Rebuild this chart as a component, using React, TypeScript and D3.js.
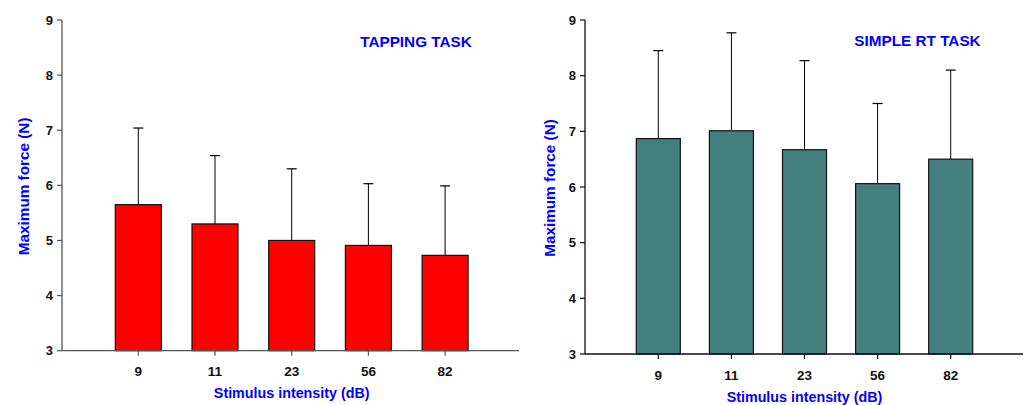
import * as d3 from 'd3'
import React from 'react'

const intensities = ['9', '11', '23', '56', '82']
const tappingMeans = [5.65, 5.3, 5.0, 4.91, 4.73]
const tappingSD = [1.39, 1.24, 1.3, 1.12, 1.26]
const simpleMeans = [6.87, 7.01, 6.67, 6.06, 6.5]
const simpleSD = [1.58, 1.76, 1.6, 1.44, 1.6]
const yTicks = [3, 4, 5, 6, 7, 8, 9]

const FONT = 'Liberation Sans, Arial, sans-serif'
const BLUE = '#0000ff'

type PanelProps = {
  title: string
  means: number[]
  sds: number[]
  fill: string
  axisColor: string
  x0: number
  x1: number
  top: number
  bottom: number
  firstTick: number
  step: number
  barW: number
  titleX: number
  titleY: number
  yLabelX: number
  xLabelY: number
  tickLabelY: number
}

function Panel(p: PanelProps) {
  const y = d3.scaleLinear().domain([3, 9]).range([p.bottom, p.top])
  const x = d3
    .scalePoint<string>()
    .domain(intensities)
    .range([p.firstTick, p.firstTick + p.step * (intensities.length - 1)])
  const mid = (p.firstTick + p.firstTick + p.step * 4) / 2

  return (
    <g fontFamily={FONT} fontWeight="bold">
      {/* bars + error bars */}
      {p.means.map((m, i) => {
        const cx = x(intensities[i])!
        const top = y(m + p.sds[i])
        return (
          <g key={i}>
            <line x1={cx} x2={cx} y1={y(m)} y2={top} stroke="#000" strokeWidth={1} />
            <line x1={cx - 5} x2={cx + 5} y1={top} y2={top} stroke="#000" strokeWidth={1.2} />
            <rect
              x={cx - p.barW / 2}
              y={y(m)}
              width={p.barW}
              height={y(3) - y(m)}
              fill={p.fill}
              stroke="#111"
              strokeWidth={1.2}
            />
          </g>
        )
      })}

      {/* y axis */}
      <line x1={p.x0} x2={p.x0} y1={p.top} y2={p.bottom} stroke={p.axisColor} strokeWidth={1.3} />
      {yTicks.map((t) => (
        <g key={t}>
          <line x1={p.x0 - 5} x2={p.x0} y1={y(t)} y2={y(t)} stroke={p.axisColor} strokeWidth={1.2} />
          <text x={p.x0 - 9} y={y(t)} dy="0.35em" textAnchor="end" fontSize={13} fill="#111">
            {t}
          </text>
        </g>
      ))}

      {/* x axis */}
      <line x1={p.x0} x2={p.x1} y1={p.bottom} y2={p.bottom} stroke={p.axisColor} strokeWidth={1.3} />
      {intensities.map((c) => (
        <g key={c}>
          <line x1={x(c)} x2={x(c)} y1={p.bottom} y2={p.bottom + 5} stroke={p.axisColor} strokeWidth={1.2} />
          <text x={x(c)} y={p.tickLabelY} dy="0.35em" textAnchor="middle" fontSize={13.5} fill="#111">
            {c}
          </text>
        </g>
      ))}

      <text x={mid} y={p.xLabelY} dy="0.35em" textAnchor="middle" fontSize={14.3} fill={BLUE}>
        Stimulus intensity (dB)
      </text>
      <text
        transform={`translate(${p.yLabelX},${(p.top + p.bottom) / 2 + 1}) rotate(-90)`}
        dy="0.35em"
        textAnchor="middle"
        fontSize={15.3}
        fill={BLUE}
      >
        Maximum force (N)
      </text>
      <text x={p.titleX} y={p.titleY} dy="0.35em" textAnchor="middle" fontSize={15.3} fill={BLUE}>
        {p.title}
      </text>
    </g>
  )
}

export default function App() {
  return (
    <svg
      width={1032}
      height={405}
      style={{ position: 'absolute', left: 0, top: 0, background: '#fff' }}
    >
      <rect width={1032} height={405} fill="#fff" />
      <Panel
        title="TAPPING TASK"
        means={tappingMeans}
        sds={tappingSD}
        fill="#ff0000"
        axisColor="#555"
        x0={62}
        x1={519}
        top={20}
        bottom={350.7}
        firstTick={138.3}
        step={76.7}
        barW={46}
        titleX={416}
        titleY={41.7}
        yLabelX={23.5}
        xLabelY={392.7}
        tickLabelY={371}
      />
      <Panel
        title="SIMPLE RT TASK"
        means={simpleMeans}
        sds={simpleSD}
        fill="#447f7f"
        axisColor="#111"
        x0={585}
        x1={1023}
        top={20}
        bottom={354}
        firstTick={658.3}
        step={73.1}
        barW={44}
        titleX={917.5}
        titleY={40.7}
        yLabelX={549.5}
        xLabelY={396.7}
        tickLabelY={375}
      />
    </svg>
  )
}
